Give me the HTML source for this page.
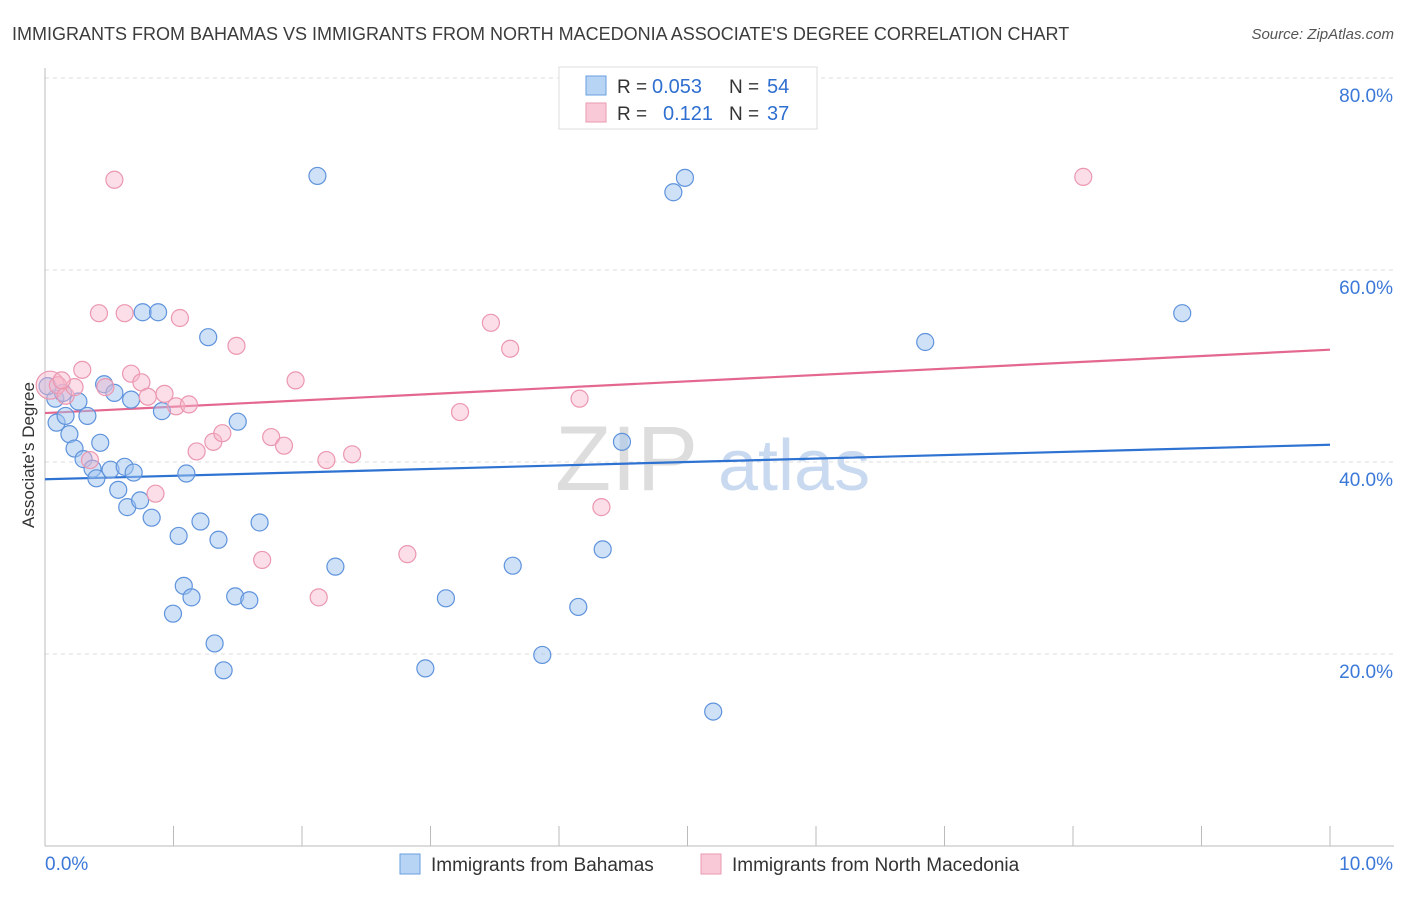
<!DOCTYPE html>
<html><head><meta charset="utf-8"><style>
body{margin:0;background:#fff;font-family:"Liberation Sans",sans-serif;}
svg text{font-family:"Liberation Sans",sans-serif;}
</style></head><body>
<svg id="chart" width="1406" height="892" xmlns="http://www.w3.org/2000/svg">
<text x="12" y="40" font-size="18" fill="#3c3c3c">IMMIGRANTS FROM BAHAMAS VS IMMIGRANTS FROM NORTH MACEDONIA ASSOCIATE'S DEGREE CORRELATION CHART</text>
<text x="1394" y="39" font-size="15" fill="#555" font-style="italic" text-anchor="end">Source: ZipAtlas.com</text>
<text transform="translate(34,455) rotate(-90)" font-size="17" fill="#333" text-anchor="middle">Associate's Degree</text>
<g>
<text x="555" y="490" font-size="92" fill="#ddd" font-family="Liberation Serif">ZIP</text>
<text x="718" y="490" font-size="72" fill="#c9daf0">atlas</text>
</g>
<g id="grid"></g><g id="ticks"></g><g id="lines"></g><g id="pts"></g>
<g>
<rect x="559" y="67" width="258" height="62" fill="#fff" stroke="#ddd"/>
<rect x="586" y="76" width="20" height="19" fill="#b8d4f5" stroke="#6a9ee0"/>
<rect x="586" y="103" width="20" height="19" fill="#f9c9d7" stroke="#ea9ab2"/>
<text x="617" y="93" font-size="19" fill="#333">R = </text><text x="652" y="93" font-size="20" fill="#2f6fd0">0.053</text>
<text x="729" y="93" font-size="19" fill="#333">N = </text><text x="767" y="93" font-size="20" fill="#2f6fd0">54</text>
<text x="617" y="120" font-size="19" fill="#333">R = </text><text x="663" y="120" font-size="20" fill="#2f6fd0">0.121</text>
<text x="729" y="120" font-size="19" fill="#333">N = </text><text x="767" y="120" font-size="20" fill="#2f6fd0">37</text>
</g>
<g>
<rect x="400" y="854" width="20" height="20" fill="#b8d4f5" stroke="#6a9ee0"/>
<text x="431" y="871" font-size="19" fill="#333">Immigrants from Bahamas</text>
<rect x="701" y="854" width="20" height="20" fill="#f9c9d7" stroke="#ea9ab2"/>
<text x="732" y="871" font-size="19" fill="#333">Immigrants from North Macedonia</text>
</g>
</svg>
<script>
const yTicks=[20,40,60,80];
const xTickLabels=["0.0%","10.0%"];
const blueX=[0.08,0.09,0.14,0.16,0.19,0.23,0.26,0.30,0.33,0.37,0.40,0.43,0.46,0.51,0.54,0.57,0.64,0.62,0.67,0.69,0.74,0.76,0.83,0.88,0.91,0.996,1.04,1.08,1.10,1.14,1.21,1.27,1.32,1.35,1.39,1.48,1.50,1.59,1.67,2.12,2.26,2.96,3.12,3.64,3.87,4.15,4.34,4.49,4.89,4.98,5.20,6.85,8.85,0.02];
const blueY=[46.6,44.1,47.2,44.8,42.9,41.4,46.3,40.3,44.8,39.3,38.3,42.0,48.1,39.2,47.2,37.1,35.3,39.5,46.5,38.9,36.0,55.6,34.2,55.6,45.3,24.2,32.3,27.1,38.8,25.9,33.8,53.0,21.1,31.9,18.3,26.0,44.2,25.6,33.7,69.8,29.1,18.5,25.8,29.2,19.9,24.9,30.9,42.1,68.1,69.6,14.0,52.5,55.5,47.9];
const pinkX=[0.04,0.10,0.16,0.23,0.29,0.35,0.42,0.47,0.54,0.62,0.67,0.75,0.80,0.86,0.93,1.02,1.05,1.12,1.18,1.31,1.38,1.49,1.69,1.76,1.86,1.95,2.13,2.19,2.39,2.82,3.23,3.47,3.62,4.16,4.33,8.08,0.13];
const pinkY=[48.0,48.0,46.9,47.8,49.6,40.2,55.5,47.8,69.4,55.5,49.2,48.3,46.8,36.7,47.1,45.8,55.0,46.0,41.1,42.1,43.0,52.1,29.8,42.6,41.7,48.5,25.9,40.2,40.8,30.4,45.2,54.5,51.8,46.6,35.3,69.7,48.5];
const blueTrend=[38.2,41.8];
const pinkTrend=[45.1,51.7];
const X=v=>45+v/10*1285, Y=v=>846-v*9.6;
const NS="http://www.w3.org/2000/svg";
function mk(tag,attrs,parent){const e=document.createElementNS(NS,tag);for(const k in attrs)e.setAttribute(k,attrs[k]);document.getElementById(parent).appendChild(e);return e;}
yTicks.forEach(t=>{
 const g=mk('line',{x1:45,x2:1394,y1:Y(t),y2:Y(t),stroke:'#ddd','stroke-dasharray':'4,4'},'grid');
 
 
 const l=mk('text',{x:1393,y:Y(t)+24,'font-size':19,fill:'#3b78d8','text-anchor':'end'},'ticks');
 l.textContent=t.toFixed(1)+'%';
 
 
});
const ax=mk('line',{x1:45,x2:45,y1:68,y2:846,stroke:'#bbb'},'grid');


const bx=mk('line',{x1:45,x2:1394,y1:846,y2:846,stroke:'#bbb'},'grid');


for(let i=0;i<=10;i++){
 const t=mk('line',{x1:X(i),x2:X(i),y1:826,y2:846,stroke:'#bbb'},'grid');
 
 
}
xTickLabels.forEach((s,i)=>{
 const l=mk('text',{x:i?1393:45,y:870,'font-size':19,fill:'#3b78d8','text-anchor':i?'end':'start'},'ticks');
 l.textContent=s;
 
 
});
blueX.forEach((x,i)=>{
 const c=mk('circle',{cx:X(x),cy:Y(blueY[i]),r:8.5,fill:'rgba(160,196,240,0.5)',stroke:'#5f93dc','stroke-width':1.2},'pts');
 
 
});
pinkX.forEach((x,i)=>{
 const c=mk('circle',{cx:X(x),cy:Y(pinkY[i]),r:i==0?14:8.5,fill:'rgba(246,182,202,0.45)',stroke:'#eb97b0','stroke-width':1.2},'pts');
 
 
});
const bl=mk('line',{x1:X(0),x2:X(10),y1:Y(blueTrend[0]),y2:Y(blueTrend[1]),stroke:'#2e72d2','stroke-width':2.2},'lines');


const pl=mk('line',{x1:X(0),x2:X(10),y1:Y(pinkTrend[0]),y2:Y(pinkTrend[1]),stroke:'#e4678f','stroke-width':2.2},'lines');


</script>
</body></html>
